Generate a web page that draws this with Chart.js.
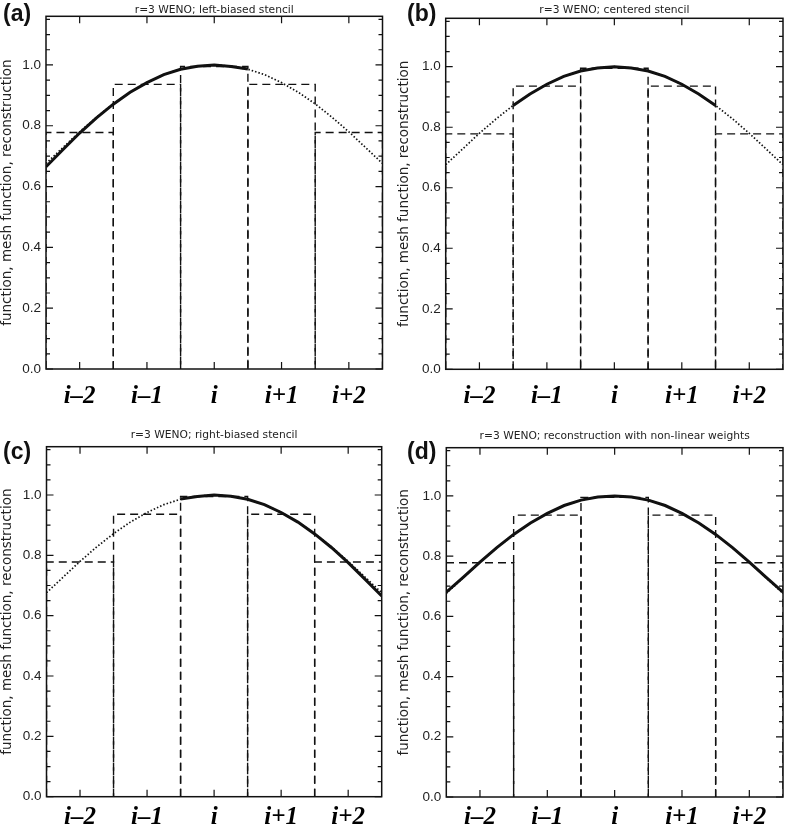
<!DOCTYPE html>
<html>
<head>
<meta charset="utf-8">
<script src="https://cdn.jsdelivr.net/npm/chart.js@4.4.1/dist/chart.umd.min.js"></script>
<style>
  body { margin: 0; background: #fff; width: 788px; height: 828px; position: relative; overflow: hidden; }
  .panel { position: absolute; width: 394px; height: 414px; }
  .tag { position: absolute; font: bold 23px 'Liberation Sans', Arial, sans-serif; line-height: 1; color: #111; }
</style>
</head>
<body>
<div class="panel" style="left:0;top:0"><canvas id="c0" width="394" height="414"></canvas></div>
<div class="panel" style="left:394px;top:0"><canvas id="c1" width="394" height="414"></canvas></div>
<div class="panel" style="left:0;top:414px"><canvas id="c2" width="394" height="414"></canvas></div>
<div class="panel" style="left:394px;top:414px"><canvas id="c3" width="394" height="414"></canvas></div>
<div class="tag" style="left:3px;top:2px">(a)</div>
<div class="tag" style="left:407px;top:2px">(b)</div>
<div class="tag" style="left:3px;top:440px">(c)</div>
<div class="tag" style="left:407px;top:440px">(d)</div>
<script>
// cells of the mesh
const cellLabels = ['i\u20132', 'i\u20131', 'i', 'i+1', 'i+2'];
const cellCenters = [-2, -1, 0, 1, 2];
const cellEdges = [-2.5, -1.5, -0.5, 0.5, 1.5, 2.5];
const cellAverages = [0.778, 0.936, 0.995, 0.936, 0.778];

// function samples
const xSamples = [-2.5, -2.25, -2, -1.75, -1.5, -1.25, -1, -0.75, -0.5, -0.25, 0,
                  0.25, 0.5, 0.75, 1, 1.25, 1.5, 1.75, 2, 2.25, 2.5];
const exactValues = [0.676, 0.728, 0.780, 0.828, 0.872, 0.910, 0.942, 0.968, 0.986, 0.996, 1.000,
                     0.996, 0.986, 0.968, 0.942, 0.910, 0.872, 0.828, 0.780, 0.728, 0.676];

// reconstructions: [first sample index, values]
const reconLeft = [0, [0.665, 0.721, 0.776, 0.826, 0.871, 0.910, 0.942, 0.968, 0.986, 0.996, 1.000, 0.995, 0.987]];
const reconCentered = [4, [0.872, 0.910, 0.942, 0.968, 0.986, 0.996, 1.000, 0.996, 0.986, 0.968, 0.942, 0.910, 0.872]];
const reconRight = [8, [0.987, 0.995, 1.000, 0.996, 0.986, 0.968, 0.942, 0.910, 0.871, 0.826, 0.776, 0.721, 0.665]];
const reconWeno = [0, [0.680, 0.729, 0.780, 0.828, 0.872, 0.910, 0.942, 0.968, 0.986, 0.996, 1.000,
                       0.996, 0.986, 0.968, 0.942, 0.910, 0.872, 0.828, 0.780, 0.729, 0.680]];

const panelTitles = ['r=3 WENO; left-biased stencil', 'r=3 WENO; centered stencil',
                     'r=3 WENO; right-biased stencil', 'r=3 WENO; reconstruction with non-linear weights'];
const panelRecons = [reconLeft, reconCentered, reconRight, reconWeno];
const yTickValues = [0, 0.2, 0.4, 0.6, 0.8, 1.0];
const yTitle = 'function, mesh function, reconstruction';
const yMax = 1.16;

// layout of each canvas (px inside the canvas)
const layouts = [
  { left: 46, top: 16.3, right: 382.5, bottom: 369, titleY: 10, labelY: 28, yTitleX: 7.5 },
  { left: 51.7, top: 18.3, right: 389, bottom: 369.3, titleY: 10.5, labelY: 27.5, yTitleX: 10.5 },
  { left: 46.5, top: 32.7, right: 381.7, bottom: 382.7, titleY: 21, labelY: 21, yTitleX: 7.5 },
  { left: 52.3, top: 33.7, right: 389, bottom: 383, titleY: 22, labelY: 21, yTitleX: 10.5 }
];

const ink = '#111';

// box + inward tick marks, IDL style
const frame = {
  id: 'frame',
  afterDatasetsDraw(chart) {
    const { ctx, chartArea: a, scales: { x, y } } = chart;
    ctx.save();
    ctx.strokeStyle = ink;
    ctx.lineWidth = 1.2;
    ctx.beginPath();
    cellCenters.forEach(v => {
      const px = x.getPixelForValue(v);
      ctx.moveTo(px, a.bottom); ctx.lineTo(px, a.bottom - 7);
      ctx.moveTo(px, a.top); ctx.lineTo(px, a.top + 7);
    });
    for (let k = 0; k * 0.05 <= yMax; k++) {
      const py = y.getPixelForValue(k * 0.05);
      const len = k % 4 === 0 ? 7 : 4;
      ctx.moveTo(a.left, py); ctx.lineTo(a.left + len, py);
      ctx.moveTo(a.right, py); ctx.lineTo(a.right - len, py);
    }
    ctx.stroke();
    ctx.lineWidth = 1.5;
    ctx.strokeRect(a.left, a.top, a.right - a.left, a.bottom - a.top);
    ctx.restore();
  }
};

function pts(start, vals) {
  return vals.map((v, i) => ({ x: xSamples[start + i], y: v }));
}

function makePanel(idx) {
  const L = layouts[idx];
  const [start, vals] = panelRecons[idx];
  const datasets = [
    { data: pts(start, vals), borderColor: ink, borderWidth: 3, pointRadius: 0, showLine: true },
    { data: pts(0, exactValues), borderColor: ink, borderWidth: 1.7, borderDash: [1.5, 2], pointRadius: 0, showLine: true }
  ];
  cellAverages.forEach((avg, c) => {
    const x0 = cellEdges[c], x1 = cellEdges[c + 1];
    datasets.push({
      data: [{ x: x0, y: 0 }, { x: x0, y: avg }, { x: x1, y: avg }, { x: x1, y: 0 }],
      borderColor: ink, borderWidth: 1.4, borderDash: [8, 5], pointRadius: 0, showLine: true
    });
  });

  new Chart(document.getElementById('c' + idx), {
    type: 'scatter',
    data: { datasets },
    options: {
      responsive: false,
      animation: false,
      events: [],
      layout: { padding: { left: 0, top: 0, right: 394 - L.right, bottom: 0 } },
      plugins: {
        legend: { display: false },
        tooltip: { enabled: false },
        title: {
          display: true,
          text: panelTitles[idx],
          fullSize: false,
          color: '#222',
          font: { family: "'DejaVu Sans', sans-serif", size: 10.7, lineHeight: 1.2, weight: 'normal' },
          padding: { top: L.titleY - 6.4, bottom: L.top - (L.titleY - 6.4) - 12.84 }
        }
      },
      scales: {
        x: {
          type: 'linear',
          min: cellEdges[0],
          max: cellEdges[cellEdges.length - 1],
          grid: { display: false, drawTicks: false },
          border: { display: false },
          afterBuildTicks: s => { s.ticks = cellCenters.map(v => ({ value: v })); },
          afterFit: s => { s.height = 414 - L.bottom; },
          ticks: {
            autoSkip: false,
            maxRotation: 0,
            padding: L.labelY - 15,
            color: '#000',
            font: { family: "'Liberation Serif', 'Times New Roman', serif", size: 25, weight: 'bold', style: 'italic', lineHeight: 1.2 },
            callback: v => cellLabels[cellCenters.indexOf(v)]
          }
        },
        y: {
          type: 'linear',
          min: 0,
          max: yMax,
          grid: { display: false, drawTicks: false },
          border: { display: false },
          afterBuildTicks: s => { s.ticks = yTickValues.map(v => ({ value: v })); },
          afterFit: s => { s.width = L.left; },
          ticks: {
            padding: 5,
            color: '#222',
            font: { family: "'Liberation Sans', Arial, sans-serif", size: 13.5 },
            callback: v => v.toFixed(1)
          },
          title: {
            display: true,
            text: yTitle,
            color: '#222',
            padding: { top: L.yTitleX - 8.1, bottom: 0 },
            font: { family: "'DejaVu Sans', sans-serif", size: 13.5, lineHeight: 1.2 }
          }
        }
      }
    },
    plugins: [frame]
  });
}

[0, 1, 2, 3].forEach(makePanel);
</script>
</body>
</html>
